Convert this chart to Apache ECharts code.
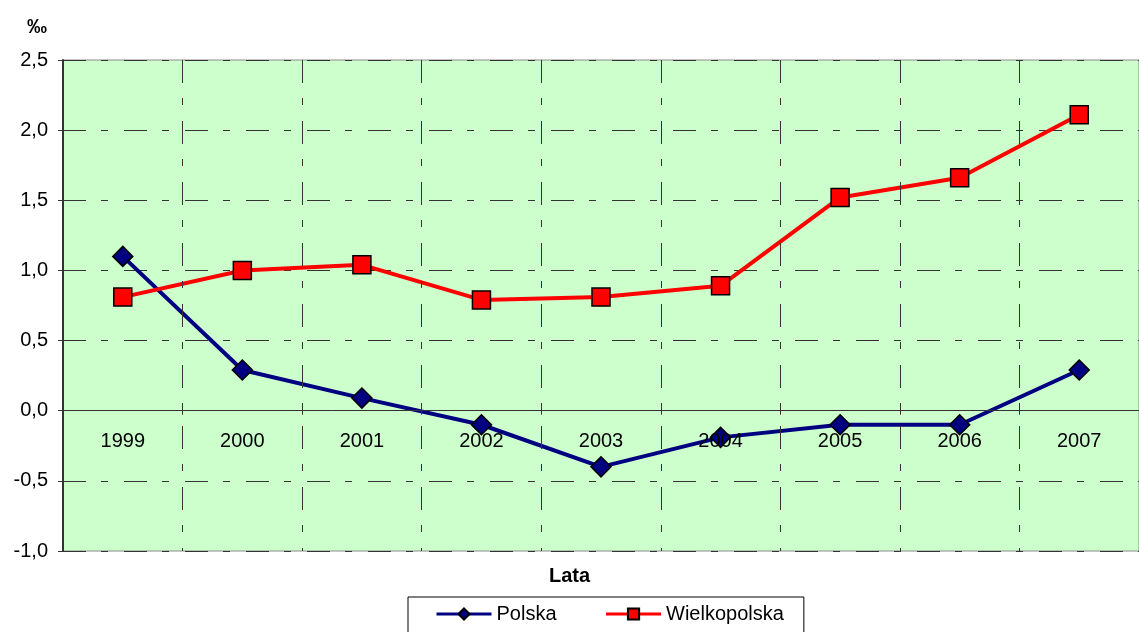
<!DOCTYPE html>
<html>
<head>
<meta charset="utf-8">
<script src="https://cdn.jsdelivr.net/npm/echarts@6/dist/echarts.min.js"></script>
<style>
  html, body { margin: 0; height: 100%; background: #fff; }
  #chart { width: 1139px; height: 632px; }
</style>
</head>
<body>
<div id="chart"></div>
<script>
  const years = ['1999', '2000', '2001', '2002', '2003', '2004', '2005', '2006', '2007'];
  const polska = [1.1, 0.29, 0.09, -0.1, -0.4, -0.19, -0.1, -0.1, 0.29];
  const wielkopolska = [0.81, 1.0, 1.04, 0.79, 0.81, 0.89, 1.52, 1.66, 2.11];

  const font = '"Liberation Sans", Arial, sans-serif';
  const dash = [23, 15, 7, 16];

  const mChart = echarts.init(document.getElementById('chart'), null, { renderer: 'canvas' });

  const option = {
    animation: false,
    textStyle: { fontFamily: font },
    title: [
      { text: '‰', left: 22, top: 12, textStyle: { fontSize: 20, fontWeight: 'bold', color: '#000', fontFamily: font } },
      { text: 'Lata', left: 'center', top: 561, textStyle: { fontSize: 20, fontWeight: 'bold', color: '#000', fontFamily: font } }
    ],
    grid: {
      left: 63, right: -13, top: 60, bottom: 81,
      show: true, backgroundColor: '#CCFFCC', borderColor: '#8c8c8c', borderWidth: 1
    },
    legend: {
      left: 408, top: 597,
      padding: [7, 20, 12, 27],
      itemGap: 48, itemWidth: 55, itemHeight: 14,
      borderColor: '#000', borderWidth: 1,
      lineStyle: { width: 3 },
      textStyle: { fontSize: 20, color: '#000', fontFamily: font },
      data: ['Polska', 'Wielkopolska']
    },
    xAxis: {
      type: 'category',
      data: years,
      boundaryGap: true,
      axisLine: { onZero: true, lineStyle: { color: '#333', width: 1 } },
      axisTick: { show: true, length: 4, lineStyle: { color: '#333' } },
      axisLabel: { color: '#000', fontSize: 20, margin: -120, fontFamily: font },
      splitLine: { show: true, lineStyle: { color: '#333', type: dash, width: 1 } },
      z: 3
    },
    yAxis: {
      type: 'value',
      min: -1, max: 2.5, interval: 0.5,
      axisLine: { show: true, lineStyle: { color: '#333', width: 2 } },
      axisTick: { show: true, length: 5, lineStyle: { color: '#333' } },
      axisLabel: {
        color: '#000', fontSize: 20, margin: 15, fontFamily: font,
        formatter: v => v.toFixed(1).replace('.', ',')
      },
      splitLine: { show: true, lineStyle: { color: '#333', type: dash, width: 1 } }
    },
    series: [
      {
        name: 'Polska', type: 'line', data: polska,
        symbol: 'diamond', symbolSize: 20,
        lineStyle: { color: '#000080', width: 4 },
        itemStyle: { color: '#000080', borderColor: '#000', borderWidth: 1.5 },
        z: 2
      },
      {
        name: 'Wielkopolska', type: 'line', data: wielkopolska,
        symbol: 'rect', symbolSize: 18,
        lineStyle: { color: '#FF0000', width: 4 },
        itemStyle: { color: '#FF0000', borderColor: '#000', borderWidth: 1.5 },
        z: 2
      }
    ]
  };

  mChart.setOption(option);
</script>
</body>
</html>
